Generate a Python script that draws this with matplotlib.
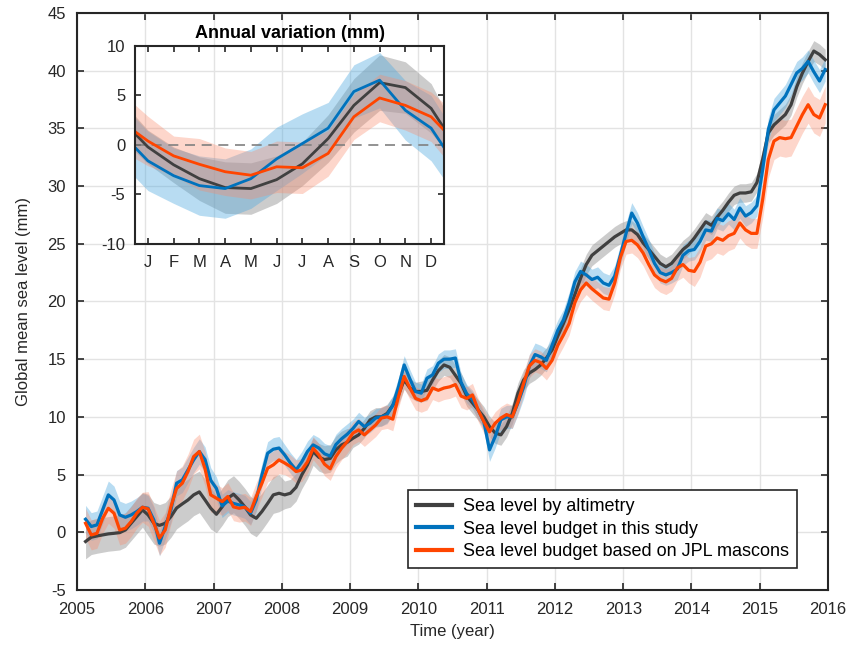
import numpy as np
import matplotlib
matplotlib.use('Agg')
from matplotlib import pyplot as plt

plt.rcParams['font.family'] = ['Liberation Sans', 'DejaVu Sans']
plt.rcParams['axes.unicode_minus'] = False

# monthly values, Feb 2005 .. Dec 2015 (mm)
altimetry = [
    -0.8, -0.43, -0.32, -0.23, -0.14, -0.09, -0.03, 0.2, 0.78, 1.36, 1.94,
    1.5, 0.78, 0.6, 0.78, 1.36, 2.1, 2.46, 2.8, 3.24, 3.5, 2.8, 2.08,
    1.56, 2.2, 2.95, 3.3, 2.8, 2.2, 1.5, 1.21, 1.8, 2.5, 3.24, 3.38,
    3.24, 3.38, 3.9, 4.97, 5.84, 7.0, 6.5, 6.3, 6.4, 7.14, 7.57, 7.8,
    8.15, 8.44, 9.0, 9.74, 10.0, 10.0, 10.3, 11.0, 11.9, 13.2, 12.5, 12.2,
    12.2, 12.3, 13.2, 14.0, 14.5, 14.3, 13.6, 12.9, 11.8, 11.2, 10.6, 10.0,
    9.16, 8.6, 8.44, 9.16, 10.3, 12.05, 13.2, 13.8, 14.1, 14.5, 15.1, 15.8,
    17.0, 18.1, 19.3, 20.6, 22.0, 23.2, 24.0, 24.4, 24.8, 25.2, 25.6, 25.9,
    26.2, 26.2, 25.8, 25.06, 24.5, 23.9, 23.3, 23.0, 23.3, 23.9, 24.5, 24.9,
    25.5, 26.2, 26.9, 26.6, 27.3, 27.9, 28.6, 29.2, 29.4, 29.4, 29.5, 30.3,
    32.3, 34.6, 35.3, 35.75, 36.2, 37.05, 38.6, 39.8, 40.8, 41.7, 41.4, 40.95,
]
budget = [
    1.13, 0.5, 0.64, 1.94, 3.24, 2.8, 1.5, 1.3, 1.5, 1.8, 2.17,
    2.08, 1.07, -0.95, 0.5, 1.94, 4.25, 4.54, 5.4, 6.27, 7.0, 6.3, 4.5,
    3.8, 2.28, 2.7, 2.5, 2.37, 2.2, 1.65, 2.8, 4.97, 6.85, 7.2, 7.3,
    6.7, 6.0, 5.4, 6.1, 7.0, 7.57, 7.3, 6.8, 6.6, 7.6, 8.1, 8.5,
    9.0, 9.6, 9.16, 9.45, 9.9, 10.0, 10.2, 11.0, 12.6, 14.5, 13.3, 12.2,
    12.05, 13.35, 13.64, 14.65, 15.0, 15.0, 15.1, 13.0, 12.0, 11.5, 10.6, 9.6,
    7.14, 8.3, 9.74, 10.0, 10.0, 11.2, 12.6, 14.4, 15.4, 15.2, 14.9, 16.2,
    17.5, 18.4, 19.9, 21.7, 22.6, 22.3, 21.9, 22.1, 21.6, 21.4, 22.2, 24.0,
    25.9, 27.66, 26.8, 25.6, 24.5, 23.3, 22.5, 22.3, 22.5, 22.8, 24.0, 24.4,
    24.5, 25.2, 26.2, 26.1, 27.2, 27.0, 27.6, 27.1, 28.1, 27.4, 27.7, 28.3,
    31.4, 34.9, 36.6, 37.2, 37.8, 38.8, 39.8, 40.2, 40.8, 39.9, 39.1, 40.1,
]
jpl = [
    0.78, -0.23, -0.09, 1.2, 2.08, 1.65, 0.2, 0.35, 0.92, 1.65, 2.17,
    2.02, 0.78, -0.5, 0.2, 2.2, 3.8, 4.25, 5.26, 6.56, 7.0, 5.5, 3.24,
    2.95, 2.66, 3.1, 2.2, 2.08, 2.17, 1.8, 3.1, 4.25, 5.55, 5.84, 6.27,
    6.0, 5.7, 5.26, 5.4, 6.1, 7.28, 6.7, 5.9, 5.5, 6.56, 7.28, 7.86,
    8.6, 8.87, 8.44, 8.87, 9.3, 9.9, 10.0, 9.8, 11.76, 13.5, 12.5, 11.6,
    11.4, 11.6, 12.5, 12.3, 12.5, 12.6, 12.8, 11.8, 11.6, 11.9, 10.6, 9.6,
    8.7, 9.45, 9.9, 10.2, 10.0, 11.3, 12.9, 14.4, 14.9, 14.7, 14.2, 14.9,
    16.2, 17.1, 18.1, 19.9, 21.0, 21.6, 21.1, 20.7, 20.3, 20.2, 21.6, 23.8,
    25.2, 25.3, 24.9, 24.2, 23.2, 22.3, 21.9, 21.7, 22.0, 22.9, 23.2, 22.7,
    22.6, 23.4, 24.8, 25.0, 25.5, 25.3, 25.7, 25.9, 26.8, 26.2, 25.9, 25.9,
    28.8, 32.3, 33.9, 34.2, 34.1, 34.2, 35.2, 36.2, 37.05, 36.2, 35.9, 37.05,
]

# uncertainty half-widths per year (2005..2015)
months_per_year = [11] + [12] * 10
err_alt = [1.5, 1.8, 1.6, 1.2, 0.8, 0.9, 0.9, 0.9, 0.8, 0.8, 0.9]
err_bud = [1.2, 1.1, 1.0, 0.9, 0.8, 0.8, 1.0, 0.9, 0.9, 0.9, 1.0]
err_jpl = [1.3, 1.5, 1.2, 1.0, 1.0, 1.0, 1.0, 1.0, 1.1, 1.3, 1.6]

# annual cycle (inset), month edges plus Jan..Dec
months = [0.5, 1, 2, 3, 4, 5, 6, 7, 8, 9, 10, 11, 12, 12.5]
month_labels = ['J', 'F', 'M', 'A', 'M', 'J', 'J', 'A', 'S', 'O', 'N', 'D']
ann_alt = [1.15, -0.2, -2.0, -3.4, -4.3, -4.4, -3.5, -1.9, 0.65, 4.0, 6.3, 5.8, 3.7, 1.7]
ann_bud = [-0.25, -1.6, -3.1, -4.1, -4.4, -3.4, -1.4, 0.15, 1.7, 5.4, 6.55, 3.5, 1.7, -0.25]
ann_jpl = [1.35, 0.4, -1.1, -1.95, -2.7, -3.05, -2.2, -2.3, -0.85, 2.85, 4.75, 4.0, 2.85, 1.5]
ann_err_alt = [1.8, 1.7, 1.8, 2.2, 2.6, 2.6, 2.4, 2.2, 2.4, 2.7, 2.8, 2.6, 2.5, 2.0]
ann_err_bud = [3.0, 3.0, 2.8, 3.0, 3.0, 3.0, 3.2, 3.0, 2.6, 2.7, 2.8, 3.0, 3.3, 3.2]
ann_err_jpl = [2.7, 2.5, 2.0, 2.6, 2.4, 2.4, 2.6, 2.6, 2.3, 2.3, 2.4, 2.5, 2.5, 2.7]

c_alt = '#404040'
c_bud = '#0072BD'
c_jpl = '#FF4500'
f_alt = '#9a9a9a'
f_bud = '#4fa9df'
f_jpl = '#fb8a6a'
dark = '#262626'

t = 2005 + (np.arange(len(altimetry)) + 1.5) / 12.0
alt = np.array(altimetry)
bud = np.array(budget)
jp = np.array(jpl)
e_alt = np.repeat(err_alt, months_per_year)
e_bud = np.repeat(err_bud, months_per_year)
e_jpl = np.repeat(err_jpl, months_per_year)

fig = plt.figure(figsize=(8.54, 6.54), dpi=100)
ax = fig.add_axes([0.0902, 0.0979, 0.8794, 0.8823])

ax.fill_between(t, alt - e_alt, alt + e_alt, color=f_alt, alpha=0.5, lw=0)
ax.fill_between(t, bud - e_bud, bud + e_bud, color=f_bud, alpha=0.4, lw=0)
ax.fill_between(t, jp - e_jpl, jp + e_jpl, color=f_jpl, alpha=0.35, lw=0)
ax.plot(t, alt, color=c_alt, lw=2.3, label='Sea level by altimetry')
ax.plot(t, bud, color=c_bud, lw=2.3, label='Sea level budget in this study')
ax.plot(t, jp, color=c_jpl, lw=2.3, label='Sea level budget based on JPL mascons')

ax.set_xlim(2005, 2016)
ax.set_ylim(-5, 45)
ax.set_xticks(np.arange(2005, 2017))
ax.set_yticks(np.arange(-5, 46, 5))
ax.grid(True, color='#e3e3e3', lw=1)
ax.set_axisbelow(True)
ax.tick_params(direction='in', length=5, width=1.2, top=True, right=True,
               labelsize=12, colors=dark)
ax.tick_params(axis='x', pad=9)
ax.tick_params(axis='y', pad=8)
for s in ax.spines.values():
    s.set_color(dark)
    s.set_linewidth(1.5)
ax.set_xlabel('Time (year)', fontsize=12, color=dark, labelpad=5)
ax.set_ylabel('Global mean sea level (mm)', fontsize=12, color=dark, labelpad=12)

leg = ax.legend(loc='lower right', bbox_to_anchor=(0.9587, 0.038), borderaxespad=0,
                fontsize=13, fancybox=False, framealpha=1, edgecolor=dark,
                handlelength=2.0, handletextpad=0.6, borderpad=0.45, labelspacing=0.3)
leg.get_frame().set_linewidth(1.2)
for line in leg.get_lines():
    line.set_linewidth(3)

# inset: annual variation
ins = fig.add_axes([0.1581, 0.6269, 0.3618, 0.3028])
ins.patch.set_alpha(0)
m = np.array(months)
for vals, errs, fc, a in [(ann_alt, ann_err_alt, f_alt, 0.5),
                          (ann_bud, ann_err_bud, f_bud, 0.4),
                          (ann_jpl, ann_err_jpl, f_jpl, 0.35)]:
    v = np.array(vals)
    e = np.array(errs)
    ins.fill_between(m, v - e, v + e, color=fc, alpha=a, lw=0)
ins.axhline(0, color='#808080', lw=1.2, ls=(0, (6, 4)))
ins.plot(m, ann_alt, color=c_alt, lw=2)
ins.plot(m, ann_bud, color=c_bud, lw=2)
ins.plot(m, ann_jpl, color=c_jpl, lw=2)
ins.set_xlim(0.5, 12.5)
ins.set_ylim(-10, 10)
ins.set_xticks(np.arange(1, 13))
ins.set_xticklabels(month_labels)
ins.set_yticks([-10, -5, 0, 5, 10])
ins.tick_params(direction='in', length=4, width=1.2, top=True, right=True,
                labelsize=12, colors=dark)
ins.tick_params(axis='x', pad=8)
ins.tick_params(axis='y', pad=7)
for s in ins.spines.values():
    s.set_color(dark)
    s.set_linewidth(1.5)
ins.set_title('Annual variation (mm)', fontsize=13, fontweight='bold', pad=6)

fig.savefig('out.png', dpi=100)
